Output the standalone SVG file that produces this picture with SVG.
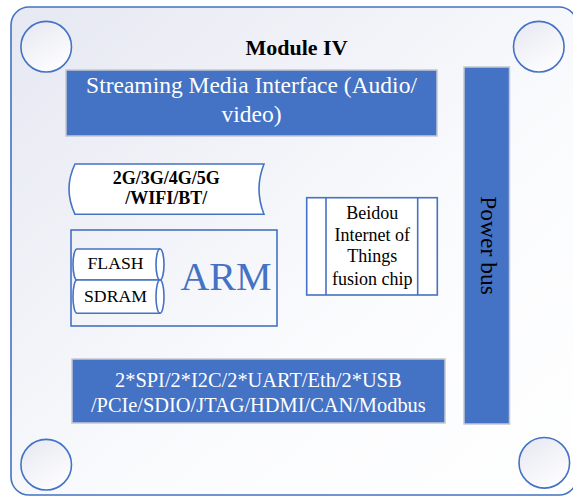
<svg xmlns="http://www.w3.org/2000/svg" width="573" height="497" viewBox="0 0 573 497">
<defs>
<linearGradient id="bg" x1="0" y1="0" x2="1" y2="1">
<stop offset="0" stop-color="#e6e8f2"/>
<stop offset="0.6" stop-color="#fafbfd"/>
<stop offset="1" stop-color="#ffffff"/>
</linearGradient>
<linearGradient id="cg" x1="0.2" y1="0" x2="0.8" y2="1">
<stop offset="0" stop-color="#e8e9f2"/>
<stop offset="1" stop-color="#ffffff"/>
</linearGradient>
<style>
.blue{fill:#4472c4;stroke:#c4c8d0;stroke-width:1.5}
.line{fill:none;stroke:#4472c4;stroke-width:1.6}
.wline{fill:#ffffff;stroke:#4472c4;stroke-width:1.6}
.hole{fill:url(#cg);stroke:#4472c4;stroke-width:1.6}
.t{font-family:"Liberation Serif","Times New Roman",serif;text-anchor:middle}
.w{fill:#ffffff}
.k{fill:#000000}
</style>
</defs>
<g id="board">
<rect x="11" y="7" width="566" height="488" rx="18" fill="url(#bg)" stroke="#4472c4" stroke-width="1.6"/>
<circle class="hole" cx="46.2" cy="46.7" r="25.3"/>
<circle class="hole" cx="538.8" cy="46.7" r="25.3"/>
<circle class="hole" cx="46.2" cy="464.7" r="25.3"/>
<circle class="hole" cx="544.3" cy="462.8" r="25.3"/>
</g>
<g id="title">
<text class="t k" x="296.5" y="55" font-size="22" font-weight="bold">Module IV</text>
</g>
<g id="streaming">
<rect class="blue" x="66" y="70" width="371" height="66"/>
<text class="t w" x="251.5" y="93" font-size="23.5">Streaming Media Interface (Audio/</text>
<text class="t w" x="251.5" y="122" font-size="23.5">video)</text>
</g>
<g id="powerbus">
<rect class="blue" x="464" y="67" width="45.5" height="357"/>
<text class="t k" font-size="23.5" transform="translate(480.7 245.5) rotate(90)">Power bus</text>
</g>
<g id="wireless">
<path class="wline" d="M75,164 L264,164 Q254,189 264,214.3 L75,214.3 Q63,189 75,164 Z"/>
<text class="t k" x="166.3" y="184.3" font-size="18" font-weight="bold">2G/3G/4G/5G</text>
<text class="t k" x="166.3" y="204.3" font-size="18" font-weight="bold">/WIFI/BT/</text>
</g>
<g id="arm">
<rect class="line" x="71" y="230" width="206" height="96"/>
<text class="t" x="226" y="290" font-size="40" fill="#4472c4">ARM</text>
</g>
<g id="flash">
<path class="wline" d="M77,249 L160,249 A4,15.5 0 0 1 160,280 L77,280 A4,15.5 0 0 1 77,249 Z"/>
<path class="line" d="M160,249 A4,15.5 0 0 0 160,280"/>
<text class="t k" x="115.5" y="269.3" font-size="17.7">FLASH</text>
</g>
<g id="sdram">
<path class="wline" d="M77,280 L160,280 A4,16.6 0 0 1 160,313.3 L77,313.3 A4,16.6 0 0 1 77,280 Z"/>
<path class="line" d="M160,280 A4,16.6 0 0 0 160,313.3"/>
<text class="t k" x="115.5" y="301.7" font-size="17.7">SDRAM</text>
</g>
<g id="beidou">
<rect class="wline" x="306.7" y="197.7" width="130.6" height="97.3"/>
<line class="line" x1="326" y1="197.7" x2="326" y2="295"/>
<line class="line" x1="417.7" y1="197.7" x2="417.7" y2="295"/>
<text class="t k" x="372.3" y="218.5" font-size="18">Beidou</text>
<text class="t k" x="372.3" y="240.8" font-size="18">Internet of</text>
<text class="t k" x="372.3" y="262.3" font-size="18">Things</text>
<text class="t k" x="372.3" y="284.5" font-size="18">fusion chip</text>
</g>
<g id="interfaces">
<rect class="blue" x="72" y="359" width="373" height="64"/>
<text class="t w" x="258.3" y="386.7" font-size="20.4">2*SPI/2*I2C/2*UART/Eth/2*USB</text>
<text class="t w" x="258.3" y="411.7" font-size="20.4">/PCIe/SDIO/JTAG/HDMI/CAN/Modbus</text>
</g>
<g id="connectors"></g>
</svg>
